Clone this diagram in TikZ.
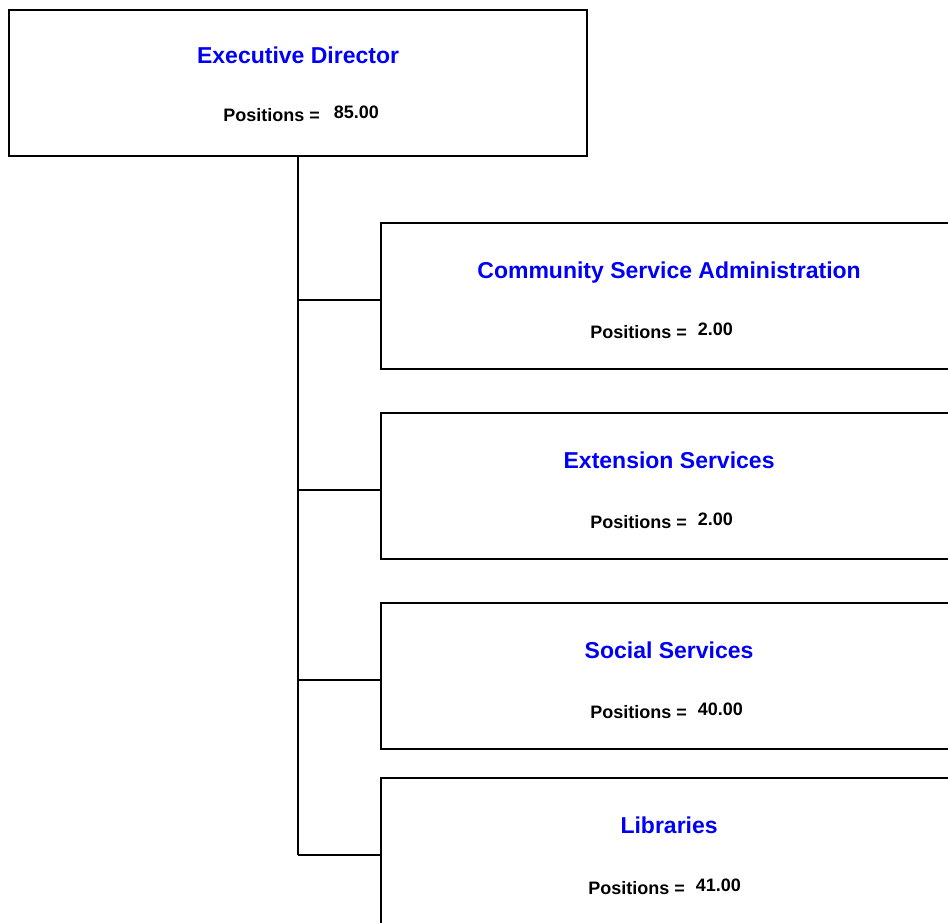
\documentclass[tikz,border=0pt]{standalone}
\usepackage{fontspec}
\setmainfont{Liberation Sans}
\usetikzlibrary{positioning}
\definecolor{titleblue}{RGB}{0,0,245}

\begin{document}
\begin{tikzpicture}[x=1pt,y=-1pt]
    \tikzstyle{unit}=[draw,rectangle,line width=2.2,inner sep=0,minimum height=146,anchor=north west]
    \tikzstyle{title}=[font=\fontsize{23}{26}\selectfont\bfseries,text=titleblue,anchor=base,inner sep=0]
    \tikzstyle{count}=[font=\fontsize{18}{20}\selectfont\bfseries,anchor=base west,inner sep=0]
    \tikzstyle{link}=[line width=2.2]
    {
        \useasboundingbox (0,0) rectangle (948,922);
        \clip (0,0) rectangle (948,922);

        \node[unit,minimum width=578] (exec) at (8,9) {};
        \node[unit,minimum width=576] (csa) at (380,222) {};
        \node[unit,minimum width=576] (ext) at (380,412) {};
        \node[unit,minimum width=576] (soc) at (380,602) {};
        \node[unit,minimum width=576] (lib) at (380,777) {};

        \node[title] (execT) at ([yshift=-54]exec.north) {Executive Director};
        \node[title] (csaT) at ([yshift=-56]csa.north) {Community Service Administration};
        \node[title] (extT) at ([yshift=-56]ext.north) {Extension Services};
        \node[title] (socT) at ([yshift=-56]soc.north) {Social Services};
        \node[title] (libT) at ([yshift=-56]lib.north) {Libraries};

        \node[count] (execN) at ([xshift=-75,yshift=-112]exec.north) {Positions =\hspace{14pt}\raisebox{3pt}{85.00}};
        \node[count] (csaN) at ([xshift=-79,yshift=-116]csa.north) {Positions =\hspace{11pt}\raisebox{3pt}{2.00}};
        \node[count] (extN) at ([xshift=-79,yshift=-116]ext.north) {Positions =\hspace{11pt}\raisebox{3pt}{2.00}};
        \node[count] (socN) at ([xshift=-79,yshift=-116]soc.north) {Positions =\hspace{11pt}\raisebox{3pt}{40.00}};
        \node[count] (libN) at ([xshift=-81,yshift=-117]lib.north) {Positions =\hspace{11pt}\raisebox{3pt}{41.00}};

        \draw[link] (exec.south) -- ([yshift=-4]lib.west -| exec.south);
        \foreach \u in {csa,ext,soc,lib}
            \draw[link] ([yshift=-4]\u.west -| exec.south) -- ([yshift=-4]\u.west);
    }
\end{tikzpicture}
\end{document}
